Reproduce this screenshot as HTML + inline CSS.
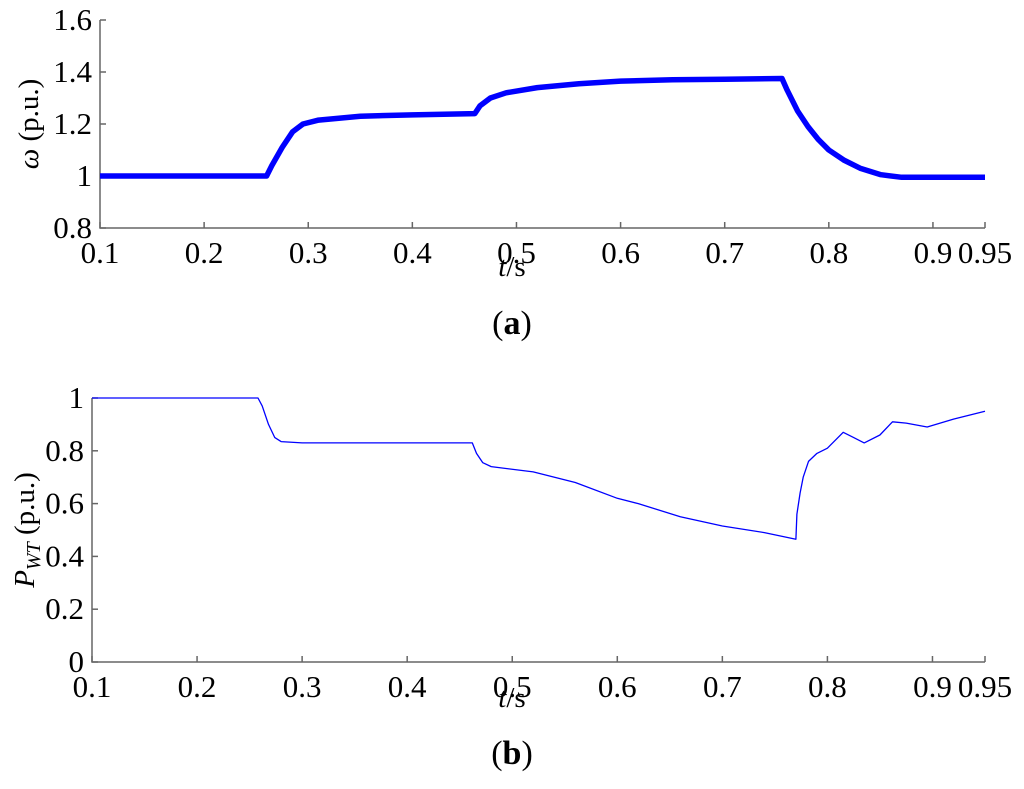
<!DOCTYPE html>
<html><head><meta charset="utf-8"><style>
body{margin:0;background:#fff}
svg text{font-family:"Liberation Serif",serif;fill:#000}
</style></head><body>
<svg width="1024" height="784" xmlns="http://www.w3.org/2000/svg">
<g id="ga"></g>
<g id="gb"></g>
</svg>
<script>
const xTicks=[0.1,0.2,0.3,0.4,0.5,0.6,0.7,0.8,0.9,0.95];
const xTickLabels=["0.1","0.2","0.3","0.4","0.5","0.6","0.7","0.8","0.9","0.95"];
const aTicks=[0.8,1,1.2,1.4,1.6];
const aTickLabels=["0.8","1","1.2","1.4","1.6"];
const bTicks=[0,0.2,0.4,0.6,0.8,1];
const bTickLabels=["0","0.2","0.4","0.6","0.8","1"];
const omegaT=[0.1,0.26,0.265,0.275,0.285,0.295,0.31,0.35,0.4,0.46,0.465,0.475,0.49,0.52,0.56,0.6,0.65,0.7,0.755,0.76,0.77,0.78,0.79,0.8,0.815,0.83,0.85,0.87,0.95];
const omegaV=[1.0,1.0,1.04,1.11,1.17,1.2,1.215,1.23,1.235,1.24,1.27,1.3,1.32,1.34,1.355,1.365,1.37,1.372,1.375,1.33,1.25,1.19,1.14,1.1,1.06,1.03,1.005,0.995,0.995];
const pT=[0.1,0.258,0.262,0.268,0.274,0.28,0.3,0.4,0.462,0.466,0.472,0.48,0.52,0.56,0.6,0.62,0.66,0.7,0.74,0.77,0.771,0.774,0.777,0.782,0.79,0.8,0.815,0.825,0.835,0.85,0.862,0.875,0.895,0.92,0.95];
const pV=[1.0,1.0,0.97,0.9,0.85,0.835,0.83,0.83,0.83,0.79,0.755,0.74,0.72,0.68,0.62,0.6,0.55,0.515,0.49,0.465,0.56,0.64,0.7,0.76,0.79,0.81,0.87,0.85,0.83,0.86,0.91,0.905,0.89,0.92,0.95];
const NS="http://www.w3.org/2000/svg";
function mk(p,tag,at,txt){const e=document.createElementNS(NS,tag);for(const k in at)e.setAttribute(k,at[k]);if(txt!==undefined)e.textContent=txt;p.appendChild(e);return e;}
function chart(g,x0,x1,yTop,yBot,ymin,ymax,yt,ytl,T,V,sw,ylab,ylx,xlabY,capY,capTxt){
 const sx=t=>x0+(t-0.1)/(0.85)*(x1-x0);
 const sy=v=>yBot-(v-ymin)/(ymax-ymin)*(yBot-yTop);
 const ax=mk(g,'path',{d:`M${x0},${yTop} V${yBot} H${x1}`,stroke:'#666',fill:'none','stroke-width':1.5});
 
 
 xTicks.forEach((t,i)=>{const x=sx(t);
  const tk=mk(g,'line',{x1:x,x2:x,y1:yBot,y2:yBot-6,stroke:'#666','stroke-width':1.5});
  
  
  const tl=mk(g,'text',{x:x,y:yBot+35,'font-size':31,'text-anchor':'middle'},xTickLabels[i]);
  
  });
 yt.forEach((v,i)=>{const y=sy(v);
  const tk=mk(g,'line',{x1:x0,x2:x0+6,y1:y,y2:y,stroke:'#666','stroke-width':1.5});
  
  
  const tl=mk(g,'text',{x:x0-8,y:y+10,'font-size':31,'text-anchor':'end'},ytl[i]);
  
  });
 let d='';T.forEach((t,i)=>{d+=(i?'L':'M')+sx(t).toFixed(1)+','+sy(V[i]).toFixed(1);});
 const ln=mk(g,'path',{d:d,stroke:'#0000ff',fill:'none','stroke-width':sw,'stroke-linejoin':'round'});
 
 
 const yl=mk(g,'text',{transform:`translate(${ylx},${(yTop+yBot)/2}) rotate(-90)`,'font-size':29,'text-anchor':'middle'});
 
 
 yl.innerHTML=ylab;
 const xl=mk(g,'text',{x:512,y:xlabY,'font-size':29,'text-anchor':'middle'});
 
 
 xl.innerHTML='<tspan font-style="italic">t</tspan>/s';
 const cp=mk(g,'text',{x:512,y:capY,'font-size':34,'text-anchor':'middle'});
 
 
 cp.innerHTML='(<tspan font-weight="bold">'+capTxt+'</tspan>)';
}
chart(document.getElementById('ga'),100,985,20,228,0.8,1.6,aTicks,aTickLabels,omegaT,omegaV,5.5,
 '<tspan font-style="italic">ω</tspan> (p.u.)',38,276,334,'a');
chart(document.getElementById('gb'),92,985,398,662,0,1,bTicks,bTickLabels,pT,pV,1.3,
 '<tspan font-style="italic">P</tspan><tspan font-style="italic" font-size="20" dy="6">WT</tspan><tspan dy="-6"> (p.u.)</tspan>',34,707,764,'b');
</script>
</body></html>
